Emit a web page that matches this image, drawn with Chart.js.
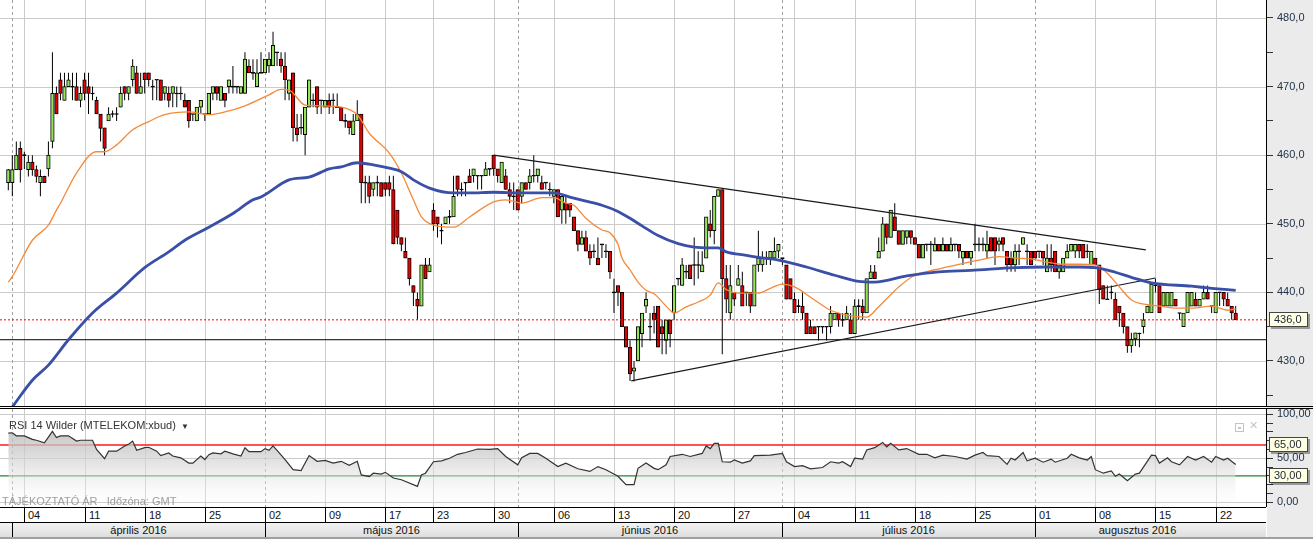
<!DOCTYPE html>
<html>
<head>
<meta charset="utf-8">
<title>MTELEKOM</title>
<script src="https://cdn.jsdelivr.net/npm/chart.js@4.4.1/dist/chart.umd.min.js"></script>
<style>
  html, body { margin: 0; padding: 0; background: #fff; }
  #page { position: relative; width: 1313px; height: 539px; overflow: hidden; font-family: "Liberation Sans", Arial, sans-serif; }
  #axisCol { position: absolute; left: 1267px; top: 0; width: 46px; height: 539px; background: #ebebeb; }
  canvas { position: absolute; left: 0; }
  #priceChart { top: 0; }
  #rsiChart { top: 409px; }
  .hline { position: absolute; left: 0; width: 1313px; height: 1px; background: #000; }
  #rsiTitle { position: absolute; left: 9px; top: 419px; font-size: 11px; color: #333; white-space: nowrap; }
  #rsiTitle span { font-size: 8px; margin-left: 5px; }
  #note { position: absolute; left: 2px; top: 495px; font-size: 11px; color: #9e9e9e; white-space: nowrap; }
  #iconBox { position: absolute; left: 1235px; top: 423px; width: 7px; height: 7px; border: 1px solid #c4c4c4; }
  #iconBox div { position: absolute; left: 2px; top: 3px; width: 3px; height: 2px; border: 1px solid #c4c4c4; box-sizing: border-box; }
  #iconX { position: absolute; left: 1249px; top: 419px; font-size: 11px; color: #c4c4c4; }
  #weekRow { position: absolute; left: 0; top: 507px; width: 1266px; height: 14px; background: #fff; border-top: 1px solid #000; }
  #monthRow { position: absolute; left: 0; top: 522px; width: 1266px; height: 15px; background: linear-gradient(#f3f3f3, #dcdcdc); border-top: 1px solid #000; }
  #bottomEdge { position: absolute; left: 0; top: 537px; width: 1313px; height: 2px; background: #a0a0a0; }
  .sep { position: absolute; top: 0; bottom: 0; width: 1px; background: #000; }
  .wk { position: absolute; top: 1px; font-size: 11px; color: #111; white-space: nowrap; }
  .mo { position: absolute; top: 1px; font-size: 11px; color: #111; text-align: center; white-space: nowrap; }
</style>
</head>
<body>
<div id="page">
  <div id="axisCol"></div>
  <canvas id="priceChart" width="1313" height="406"></canvas>
  <div class="hline" style="top:406px"></div>
  <div class="hline" style="top:408px"></div>
  <canvas id="rsiChart" width="1313" height="98"></canvas>
  <div id="rsiTitle">RSI 14 Wilder (MTELEKOM:xbud)<span>&#9660;</span></div>
  <div id="iconBox"><div></div></div>
  <div id="iconX">&#10005;</div>
  <div id="note">TÁJÉKOZTATÓ ÁR &nbsp; Időzóna: GMT</div>
  <div id="weekRow"></div>
  <div id="monthRow"></div>
  <div id="bottomEdge"></div>
</div>
<script>
// candles, 3 per trading day, 31 Mar (last one) .. 23 Aug 2016
const opens = [
  456.0,456.0,457.9,461.0,460.0,457.9,459.0,457.9,456.0,456.9,458.0,462.0,469.0,471.0,468.0,
  470.0,470.0,470.0,468.0,471.0,470.0,469.0,468.0,466.0,464.0,465.0,466.0,466.0,467.0,470.0,
  469.0,471.0,472.0,469.0,472.0,472.0,470.0,471.0,471.0,469.0,469.0,469.0,469.0,469.0,468.0,
  468.0,466.0,465.0,467.0,466.0,466.0,469.0,470.0,468.0,469.0,470.0,470.0,470.0,469.0,469.0,
  473.0,472.0,470.0,472.0,472.0,473.0,473.0,475.0,474.0,473.0,469.0,472.0,464.0,464.0,463.0,
  467.0,468.0,470.0,468.0,467.0,468.0,468.0,467.0,467.0,465.0,465.0,463.0,465.0,466.0,456.0,
  456.0,455.0,456.0,456.0,456.0,456.0,455.0,452.0,448.0,446.0,445.0,441.0,439.0,438.0,444.0,
  443.0,452.0,451.0,449.0,450.0,451.0,451.0,457.0,455.0,456.0,457.0,457.0,457.0,457.0,457.0,
  458.0,460.0,458.0,456.0,457.0,455.0,454.0,455.0,454.0,456.0,456.0,457.0,457.0,456.0,456.0,
  455.0,454.0,455.0,452.0,453.0,453.0,451.0,449.0,447.0,448.0,446.0,446.0,445.0,447.0,446.0,
  446.0,440.0,441.0,440.0,435.0,432.0,428.5,430.0,434.0,438.0,435.0,437.0,438.0,435.0,433.0,
  436.0,437.0,442.0,441.0,443.0,444.0,444.0,444.0,443.0,445.0,450.0,449.0,454.0,455.0,442.0,
  437.0,440.0,441.0,441.0,440.0,440.0,438.0,444.0,444.0,445.0,445.0,445.0,446.0,445.0,444.0,
  442.0,439.0,438.0,438.0,437.0,435.0,435.0,435.0,435.0,435.0,435.0,436.0,437.0,436.0,436.0,
  436.0,434.0,438.0,438.0,437.0,442.0,443.0,445.0,446.0,450.0,448.0,451.0,449.0,447.0,448.0,
  449.0,448.0,447.0,445.0,447.0,447.0,446.0,447.0,446.0,447.0,446.0,447.0,447.0,445.0,446.0,
  445.0,447.0,447.0,447.0,446.0,448.0,448.0,447.0,448.0,446.0,445.0,444.0,446.0,447.0,446.0,
  446.0,446.0,446.0,446.0,443.0,445.0,446.0,443.0,443.0,445.0,446.0,446.0,447.0,447.0,446.0,
  444.0,445.0,444.0,441.0,439.0,440.0,439.0,438.0,437.0,435.0,432.2,433.2,434.0,435.0,437.0,
  437.0,441.0,441.0,438.0,438.0,438.0,439.0,437.0,435.0,437.0,438.0,439.0,438.0,439.0,440.0,
  438.0,437.0,440.0,440.0,439.0,438.0,437.0
];
const highs = [
  458.0,460.0,462.0,462.0,460.5,460.0,460.0,458.5,457.9,457.0,462.0,475.0,470.0,472.0,472.0,
  472.0,472.0,472.0,470.0,472.0,472.0,470.0,468.5,466.0,464.0,467.0,466.5,467.0,470.0,470.0,
  470.0,474.0,473.0,472.0,472.0,472.0,471.0,471.0,471.0,470.0,470.0,470.0,470.0,470.0,469.0,
  468.0,466.0,467.0,468.0,466.0,469.0,470.0,470.0,470.0,469.0,471.0,473.0,470.0,470.0,475.0,
  474.0,474.0,474.0,475.0,474.0,475.0,478.0,475.0,475.0,475.0,471.0,472.0,466.0,466.0,467.0,
  471.0,469.0,470.0,468.0,468.0,469.0,469.0,469.0,467.0,466.0,465.0,466.0,468.0,466.0,457.0,
  457.0,456.0,457.0,456.0,456.0,457.0,457.0,452.0,448.0,448.0,445.0,441.0,440.0,444.0,445.0,
  445.0,453.0,451.0,450.0,451.0,452.0,457.0,457.0,456.0,456.0,458.0,458.0,457.0,457.0,459.0,
  458.0,460.0,458.0,459.0,458.0,456.0,456.0,455.0,456.0,456.0,458.0,460.0,458.0,457.0,456.0,
  456.0,455.0,455.0,454.0,454.0,453.0,451.0,449.0,449.0,449.0,447.0,447.0,448.0,447.0,447.0,
  446.0,442.0,441.0,440.0,435.0,433.0,430.0,435.0,437.0,440.0,437.0,438.0,438.0,436.0,436.0,
  436.0,441.0,442.0,445.0,444.0,444.0,448.0,446.0,446.0,451.0,452.0,454.0,455.0,455.0,444.0,
  444.0,440.0,444.0,443.0,440.0,440.0,444.0,449.0,446.0,446.0,446.0,448.0,447.0,445.0,444.0,
  442.0,440.0,439.0,440.0,437.0,436.0,435.0,435.0,435.0,435.0,438.0,437.0,437.0,437.0,438.0,
  437.0,439.0,439.0,439.0,442.0,444.0,444.0,448.0,451.0,450.0,452.0,453.0,449.0,449.0,449.0,
  449.0,448.0,447.0,447.0,447.0,447.5,448.0,447.0,448.0,447.0,448.0,447.0,447.0,446.0,446.0,
  446.0,450.0,448.0,448.0,449.0,448.0,448.0,448.0,448.0,446.0,446.0,447.0,447.0,448.0,447.0,
  446.0,446.0,446.0,446.0,447.0,447.0,446.0,444.0,445.0,447.0,447.0,447.0,447.0,447.0,447.0,
  446.0,445.0,444.0,441.0,441.0,441.0,440.0,438.0,437.0,435.0,434.1,434.1,434.1,437.0,438.0,
  441.2,442.0,441.0,440.0,440.0,440.0,439.0,437.0,437.0,440.0,440.0,440.0,439.0,441.0,441.0,
  438.0,440.0,440.0,440.0,440.0,438.0,438.0
];
const lows = [
  454.9,454.0,457.9,456.0,458.0,456.9,457.0,456.0,454.0,456.0,456.9,461.0,466.0,468.0,468.0,
  470.0,468.0,468.0,467.0,468.0,466.0,468.0,466.0,462.0,460.0,465.0,465.5,465.0,467.0,468.0,
  468.0,470.0,469.0,469.0,469.0,470.0,468.0,468.0,468.0,468.0,467.0,467.0,467.0,468.0,467.0,
  464.0,465.0,465.0,466.0,465.0,466.0,468.0,468.0,468.0,467.0,469.0,469.0,469.0,469.0,469.0,
  472.0,471.0,470.0,472.0,472.0,472.0,473.0,473.0,472.0,468.0,468.0,462.0,462.0,463.0,460.0,
  467.0,467.0,466.0,466.0,467.0,466.0,466.0,467.0,465.0,464.0,463.0,463.0,465.0,453.0,453.0,
  453.0,454.0,454.0,454.0,454.0,454.0,447.0,447.0,446.0,445.0,441.0,438.0,436.0,438.0,442.0,
  443.0,449.0,448.0,447.0,450.0,450.0,451.0,454.0,454.0,454.0,456.0,456.0,455.0,455.0,457.0,
  457.0,457.0,456.0,456.0,455.0,453.0,452.0,452.0,453.0,455.0,455.0,456.0,456.0,455.0,455.0,
  454.0,453.0,451.0,450.0,450.0,451.0,449.0,446.0,447.0,446.0,444.0,445.0,444.0,445.0,445.0,
  442.0,437.0,438.0,435.0,432.0,427.1,427.0,430.0,432.0,437.0,433.0,434.0,432.0,431.0,431.0,
  432.0,436.0,441.0,441.0,442.0,442.0,441.0,442.0,443.0,445.0,448.0,447.0,454.0,431.0,437.0,
  436.0,438.0,441.0,438.0,438.0,437.0,438.0,443.0,443.0,444.0,444.0,445.0,445.0,444.0,439.0,
  439.0,437.0,437.0,436.0,434.0,434.0,434.0,433.0,434.0,433.0,434.0,436.0,435.0,435.0,436.0,
  434.0,434.0,436.0,436.0,437.0,442.0,442.0,445.0,446.0,447.0,448.0,449.0,447.0,447.0,447.0,
  447.0,447.0,445.0,445.0,446.0,444.0,446.0,446.0,446.0,446.0,446.0,446.0,445.0,444.0,445.0,
  444.0,446.0,446.0,446.0,445.0,446.0,444.0,446.0,446.0,443.0,443.0,443.0,444.0,447.0,444.0,
  444.0,445.0,445.0,444.0,443.0,443.0,443.0,442.0,443.0,445.0,446.0,445.0,445.0,445.0,445.0,
  444.0,444.0,438.3,439.0,439.0,439.0,436.0,435.0,434.0,431.2,431.2,432.2,432.0,434.0,437.0,
  437.0,440.0,437.0,438.0,438.0,438.0,438.0,436.0,435.0,437.0,438.0,438.0,438.0,439.0,439.0,
  437.0,437.0,438.0,438.0,438.0,436.0,436.0
];
const closes = [
  457.9,457.9,460.0,457.9,460.0,459.0,457.9,456.9,456.9,456.0,460.0,469.0,466.0,469.0,470.0,
  471.0,470.0,468.0,469.0,469.0,469.0,469.0,466.0,463.9,461.0,466.0,466.0,466.0,469.0,469.0,
  470.0,473.0,469.0,470.0,471.0,471.0,470.0,471.0,468.0,470.0,468.0,470.0,469.0,469.0,467.0,
  465.0,466.0,467.0,468.0,466.0,469.0,470.0,469.0,470.0,468.0,471.0,470.0,470.0,470.0,474.0,
  472.0,472.0,472.0,472.0,474.0,474.0,476.0,475.0,473.0,471.0,471.0,464.0,463.0,464.0,467.0,
  471.0,468.0,467.0,468.0,468.0,467.0,468.0,467.0,465.0,465.0,464.0,465.0,466.0,456.0,456.0,
  454.0,456.0,456.0,454.0,455.0,455.0,447.1,448.0,447.0,445.0,442.0,440.0,438.0,444.0,442.0,
  444.0,450.0,450.0,449.0,451.0,451.0,454.0,455.0,455.0,456.0,456.0,458.0,457.0,457.0,458.0,
  458.0,458.0,457.0,459.0,455.0,454.0,454.0,452.0,456.0,455.0,457.0,457.0,458.0,455.0,456.0,
  455.0,455.0,451.0,454.0,452.0,452.0,449.0,447.0,448.0,446.0,445.0,446.0,444.0,447.0,446.0,
  443.0,440.0,440.0,435.0,432.0,428.1,429.0,435.0,437.0,439.0,435.0,436.0,432.0,434.0,436.0,
  434.0,441.0,442.0,444.0,443.0,442.0,444.0,444.0,444.0,451.0,449.0,454.0,455.0,442.0,439.0,
  441.0,439.0,442.0,438.0,440.0,438.0,444.0,445.0,445.0,445.0,446.0,446.0,447.0,445.0,439.0,
  439.0,437.0,438.0,437.0,434.0,434.0,434.0,435.0,435.0,435.0,437.0,437.0,436.0,436.0,437.0,
  434.0,438.0,438.0,437.0,442.0,443.0,442.0,446.0,450.0,448.0,452.0,449.0,447.0,449.0,449.0,
  448.0,447.0,445.0,447.0,447.0,447.0,447.0,446.0,447.0,446.0,447.0,447.0,446.0,446.0,445.0,
  446.0,447.0,447.0,447.0,447.0,446.0,446.0,447.5,447.0,444.0,444.0,446.0,446.0,448.0,446.0,
  444.0,445.0,446.0,445.0,445.0,444.0,443.0,444.0,445.0,446.0,447.0,447.0,446.0,445.0,446.0,
  446.0,444.0,440.4,439.0,439.0,440.0,436.0,437.0,435.0,432.2,433.2,434.1,434.0,436.0,438.0,
  441.2,441.0,437.0,440.0,440.0,440.0,438.0,437.0,437.0,440.0,440.0,438.0,439.0,440.0,439.0,
  438.0,440.0,440.0,439.0,438.0,437.0,436.0
];

// moving averages, read at candle positions
const maFastIdx = [0,1,6,10,12,13,17,22,24,27,31,35,39,45,50,54,59,65,68,70,74,78,83,87,90,95,98,101,103,106,
  111,115,121,124,128,133,136,139,141,144,148,150,152,153,155,157,159,161,164,166,169,172,175,177,179,182,187,190,193,196,
  201,205,209,214,217,222,226,231,237,242,247,251,255,259,263,267,271,274,277,280,284,287,291,295,300,304,306];
const maFastVal = [441.5,442.3,447.6,449.8,452.0,453.0,457.4,460.5,460.5,461.5,463.7,464.9,465.9,466.3,465.9,466.3,467.2,468.8,469.6,469.5,
  467.3,467.2,467.0,465.9,463.2,460.3,457.4,453.5,451.0,449.8,449.5,451.0,453.2,453.5,453.0,453.8,453.8,453.0,452.7,450.8,
  449.1,448.7,447.0,445.0,443.3,441.5,440.3,439.8,438.0,437.0,437.9,438.6,439.6,441.4,440.4,439.9,439.9,440.6,441.2,440.8,
  438.9,437.4,436.7,436.4,437.9,440.8,442.5,443.3,444.1,444.7,445.2,445.0,444.9,444.4,444.1,444.1,444.0,442.8,440.8,438.9,
  438.2,438.0,437.7,437.7,438.0,437.4,437.6];
const maSlowIdx = [1,6,10,15,21,27,34,40,44,50,56,61,63,70,75,80,83,87,91,95,98,101,105,111,115,121,128,136,140,144,
  148,152,155,158,162,167,171,175,177,179,184,187,192,199,206,212,216,224,232,240,251,259,267,271,275,280,285,295,300,306];
const maSlowVal = [423.3,427.2,429.4,433.1,437.0,439.9,443.6,445.9,447.6,449.5,451.5,453.5,453.9,456.4,456.8,458.0,458.3,458.9,458.6,458.1,
  457.6,456.4,455.2,454.5,454.5,454.6,454.5,454.5,453.9,453.3,452.7,451.8,450.8,449.7,448.3,447.1,446.6,446.5,446.5,445.9,
  445.4,445.1,444.7,443.7,442.5,441.6,441.5,442.4,443.0,443.2,443.6,443.7,443.7,443.6,443.1,442.2,441.4,440.9,440.6,440.3];

// drawn lines: [candle index, price]
const trendHigh = [[121, 460.0], [283.6, 446.2]];
const trendLow = [[155.3, 427.1], [286, 442.1]];
const supportLevel = 433.1;
const lastPrice = 436.0;

// RSI 14 Wilder
const rsiIdx = [0,1,2,4,6,7,9,11,12,13,15,17,18,21,22,24,25,27,29,30,31,32,34,35,37,38,40,41,43,45,
  46,48,49,50,51,53,54,56,58,59,60,63,64,65,66,67,69,71,73,74,75,77,79,81,83,85,87,88,90,91,
  93,94,96,98,102,103,104,106,108,110,112,114,117,120,122,124,127,128,130,132,134,137,139,142,145,147,149,152,154,156,
  157,159,161,162,164,165,168,170,173,174,175,176,177,178,180,181,183,185,186,190,193,194,196,198,200,203,205,207,208,210,
  211,213,214,216,218,219,220,222,224,227,229,231,233,236,239,241,243,244,247,249,250,251,253,254,256,258,260,261,264,265,
  267,269,270,271,273,275,276,277,279,281,282,285,286,287,289,290,292,294,296,298,300,301,303,304,306];
const rsiVal = [78.5,79,75.5,75.5,71.5,70.5,67.5,80.5,73.5,75.5,75.5,69.5,70.5,70.5,60,49.5,58,58,64,66,69.5,59,62,62.5,58,53,56,52.5,50.5,44.5,
  44.5,52.5,48.5,54,56,55,58,55,52.5,62,57.5,57.5,61,59,64,59,48.5,37,36,44.5,53,46.5,47.5,44.5,46.5,42,46.5,31,29,33,
  32,34,27.5,25.5,18,31,33,46,47,50,54.5,56.5,60.5,60,61,52,42.5,50.5,55.5,55.5,50,40.5,44.5,38,35,40.5,37,29.5,20,20,
  38.5,44.5,38.5,37,42.5,52,54.5,52,55.5,64,61,67,67,46,45.5,48,44.5,47,53,53.5,55.5,46,40.5,41.5,38,39.5,46,44.5,46,40.5,
  50,49,59.5,62,68,63,67,59.5,61,54.5,54.5,50.5,53.5,52,49,53.5,56.5,53,52,43,50,48,56.5,47,50,45.5,49,45.5,50,54.5,
  50.5,48,52,37,33,35.5,29.5,32,24.5,32,33,53.5,53,44.5,50.5,46,42.5,52,48,52,45.5,52,48,50,43];
const rsiLevels = [65, 30];

// calendar (trading-day numbers counted from 1 Apr 2016)
const weekStartDays = [1,6,11,16,21,26,31,35,40,45,50,55,60,65,70,75,80,85,90,95,100];
const weekLabels = ['04','11','18','25','02','09','17','23','30','06','13','20','27','04','11','18','25','01','08','15','22'];
const monthStartDays = [0,21,42,64,85];
const monthEndDay = 102;
const monthLabels = ['április 2016','május 2016','június 2016','július 2016','augusztus 2016'];

const priceTicks = [425,430,435,440,445,450,455,460,465,470,475,480];
const rsiTicks = [0,10,20,30,40,50,60,70,80,90,100];

// ---- view settings
const X_MIN = -2.07, X_MAX = 313.56;
const UP = '#97e35b', DOWN = '#e40000';
const GRID = '#cbcbcb';
const FONT = { family: 'Liberation Sans', size: 11 };
const dayIndex = d => 1 + 3 * d;

const idx = opens.map((_, i) => i);
const bodyData = idx.map(i => ({ x: i, y: opens[i] === closes[i] ? [opens[i] - 0.07, opens[i] + 0.07] : [opens[i], closes[i]] }));
const wickData = idx.map(i => ({ x: i, y: [lows[i], highs[i]] }));
const bodyColors = idx.map(i => closes[i] > opens[i] ? UP : (closes[i] < opens[i] ? DOWN : '#000'));
const pts = (xs, ys) => xs.map((x, k) => ({ x: x, y: ys[k] }));
const flat = v => [{ x: X_MIN - 1, y: v }, { x: X_MAX + 1, y: v }];

// vertical week / month lines and horizontal value lines, all placed through the chart scales
const chartGrid = {
  id: 'chartGrid',
  beforeDatasetsDraw(chart, args, opts) {
    const { ctx, chartArea: a, scales } = chart;
    ctx.save();
    ctx.lineWidth = 1;
    ctx.strokeStyle = GRID;
    (opts.levels || []).forEach(v => {
      const py = Math.round(scales.y.getPixelForValue(v)) + 0.5;
      ctx.beginPath(); ctx.moveTo(a.left, py); ctx.lineTo(a.right, py); ctx.stroke();
    });
    weekStartDays.forEach(d => {
      if (monthStartDays.includes(d)) return;
      const px = Math.round(scales.x.getPixelForValue(dayIndex(d))) + 0.5;
      ctx.beginPath(); ctx.moveTo(px, a.top); ctx.lineTo(px, a.bottom); ctx.stroke();
    });
    ctx.strokeStyle = '#a0a0a0';
    ctx.setLineDash([3, 3]);
    monthStartDays.forEach(d => {
      const px = Math.round(scales.x.getPixelForValue(dayIndex(d))) + 0.5;
      ctx.beginPath(); ctx.moveTo(px, a.top); ctx.lineTo(px, a.bottom); ctx.stroke();
    });
    ctx.restore();
  }
};

const valueBoxes = {
  id: 'valueBoxes',
  afterDraw(chart, args, opts) {
    const { ctx, scales } = chart;
    (opts.items || []).forEach(it => {
      const y = Math.round(scales.y.getPixelForValue(it.value));
      const x = scales.y.left + 3;
      ctx.save();
      ctx.fillStyle = 'rgba(0,0,0,0.35)';
      ctx.fillRect(x + 2, y - 6, 39, 15);
      ctx.fillStyle = '#ffffe1';
      ctx.fillRect(x, y - 8, 39, 15);
      ctx.strokeStyle = '#444';
      ctx.strokeRect(x + 0.5, y - 7.5, 38, 14);
      ctx.fillStyle = '#1c2438';
      ctx.font = '11px "Liberation Sans"';
      ctx.textBaseline = 'middle';
      ctx.fillText(it.text, x + 5, y);
      ctx.restore();
    });
  }
};

function rightAxis(min, max, ticks, isMajor, fmt) {
  return {
    position: 'right', min: min, max: max,
    afterBuildTicks: s => { s.ticks = ticks.map(v => ({ value: v })); },
    afterFit: s => { s.width = 47; s.paddingTop = 0; s.paddingBottom = 0; },
    ticks: { autoSkip: false, padding: 4, color: '#22334a', font: FONT, callback: v => isMajor(v) ? fmt(v) : '' },
    grid: { drawOnChartArea: false, drawTicks: true, tickColor: '#333', tickLength: 7 },
    border: { color: '#000', width: 1 }
  };
}

const xAxis = { type: 'linear', min: X_MIN, max: X_MAX, offset: false, display: false };

new Chart(document.getElementById('priceChart'), {
  type: 'bar',
  data: {
    datasets: [
      { type: 'line', data: pts(maSlowIdx, maSlowVal), borderColor: '#3a4fa7', borderWidth: 2.8, pointRadius: 0, cubicInterpolationMode: 'monotone', order: 0 },
      { type: 'line', data: pts(maFastIdx, maFastVal), borderColor: '#f5893a', borderWidth: 1.3, pointRadius: 0, cubicInterpolationMode: 'monotone', order: 0 },
      { type: 'line', data: trendHigh.map(p => ({ x: p[0], y: p[1] })), borderColor: '#1a1a1a', borderWidth: 1.2, pointRadius: 0, order: 0 },
      { type: 'line', data: trendLow.map(p => ({ x: p[0], y: p[1] })), borderColor: '#1a1a1a', borderWidth: 1.2, pointRadius: 0, order: 0 },
      { type: 'line', data: flat(supportLevel), borderColor: '#000', borderWidth: 1, pointRadius: 0, order: 0 },
      { type: 'line', data: flat(lastPrice), borderColor: '#ff0000', borderWidth: 1, borderDash: [2, 2], pointRadius: 0, order: 0 },
      { data: bodyData, backgroundColor: bodyColors, borderColor: '#000', borderWidth: 1, borderSkipped: false, barThickness: 3.6, grouped: false, order: 1 },
      { data: wickData, backgroundColor: '#000', borderWidth: 0, barThickness: 1, inflateAmount: 0, grouped: false, order: 2 }
    ]
  },
  options: {
    responsive: false, animation: false, devicePixelRatio: 1,
    layout: { padding: 0 },
    plugins: { legend: { display: false }, tooltip: { enabled: false },
      chartGrid: { levels: priceTicks.filter(v => v % 10 === 0) },
      valueBoxes: { items: [{ value: lastPrice, text: lastPrice.toFixed(1).replace('.', ',') }] } },
    scales: {
      x: xAxis,
      y: rightAxis(423.44, 482.62, priceTicks, v => v % 10 === 0, v => v.toFixed(1).replace('.', ','))
    }
  },
  plugins: [chartGrid, valueBoxes]
});

const rsiChart = new Chart(document.getElementById('rsiChart'), {
  type: 'line',
  data: {
    datasets: [
      { data: pts(rsiIdx, rsiVal), borderColor: '#333', borderWidth: 1.2, pointRadius: 0, tension: 0, fill: 'origin',
        backgroundColor: c => {
          const a = c.chart.chartArea;
          if (!a) return 'rgba(200,200,200,0.6)';
          const g = c.chart.ctx.createLinearGradient(0, a.top, 0, a.bottom);
          g.addColorStop(0, 'rgba(170,170,170,0.85)');
          g.addColorStop(0.45, 'rgba(205,205,205,0.75)');
          g.addColorStop(1, 'rgba(255,255,255,0.2)');
          return g;
        } },
      { data: flat(rsiLevels[0]), borderColor: '#ff1a1a', borderWidth: 1.4, pointRadius: 0 },
      { data: flat(rsiLevels[1]), borderColor: '#23862a', borderWidth: 1.4, pointRadius: 0 }
    ]
  },
  options: {
    responsive: false, animation: false, devicePixelRatio: 1,
    layout: { padding: 0 },
    plugins: { legend: { display: false }, tooltip: { enabled: false },
      chartGrid: { levels: rsiTicks.filter(v => v % 50 === 0) },
      valueBoxes: { items: rsiLevels.map(v => ({ value: v, text: v.toFixed(2).replace('.', ',') })) } },
    scales: {
      x: xAxis,
      y: rightAxis(-5.46, 106.03, rsiTicks, v => v % 50 === 0, v => v.toFixed(2).replace('.', ','))
    }
  },
  plugins: [chartGrid, valueBoxes]
});

// date rows under the RSI panel, placed with the chart's own x scale
const xs = rsiChart.scales.x;
const weekRow = document.getElementById('weekRow');
const monthRow = document.getElementById('monthRow');
weekStartDays.forEach((d, k) => {
  const px = Math.round(xs.getPixelForValue(dayIndex(d)));
  const s = document.createElement('div'); s.className = 'sep'; s.style.left = px + 'px'; weekRow.appendChild(s);
  const t = document.createElement('div'); t.className = 'wk'; t.style.left = (px + 4) + 'px'; t.textContent = weekLabels[k]; weekRow.appendChild(t);
});
monthStartDays.forEach((d, k) => {
  const a = Math.round(xs.getPixelForValue(dayIndex(d)));
  const b = Math.round(xs.getPixelForValue(dayIndex(k + 1 < monthStartDays.length ? monthStartDays[k + 1] : monthEndDay)));
  const s = document.createElement('div'); s.className = 'sep'; s.style.left = a + 'px'; monthRow.appendChild(s);
  const t = document.createElement('div'); t.className = 'mo'; t.style.left = a + 'px'; t.style.width = (b - a) + 'px'; t.textContent = monthLabels[k]; monthRow.appendChild(t);
});
</script>
</body>
</html>
